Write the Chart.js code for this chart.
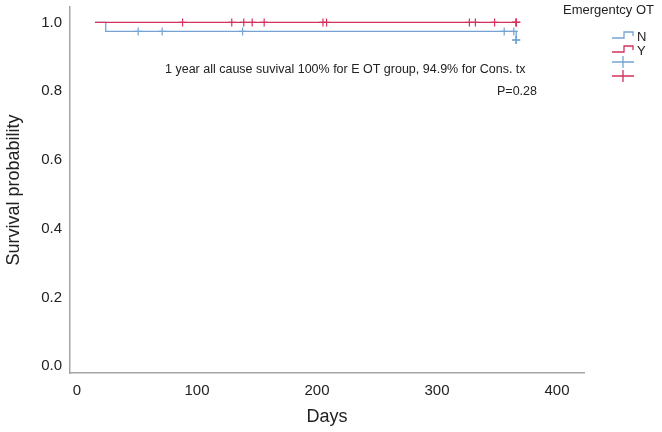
<!DOCTYPE html>
<html>
<head>
<meta charset="utf-8">
<script src="https://cdn.jsdelivr.net/npm/chart.js@4/dist/chart.umd.min.js"></script>
<style>
  body { margin: 0; background: #fff; }
  #wrap { width: 662px; height: 432px; }
</style>
</head>
<body>
<div id="wrap"><canvas id="km"></canvas></div>
<script>
//colors
const red   = '#d2325c';
const blue  = '#74a3d4';
const axisGrey = '#a6a6a6';
const textDark = '#222222';
const fontFam  = "'Liberation Sans', Arial, sans-serif";

// survival curves (days, survival)
const redTimes  = [15, 366];
const redSurv   = [1.0, 1.0];
const blueTimes = [15, 24, 366, 366];
const blueSurv  = [1.0, 0.974, 0.974, 0.949];

// censored cases
const redCensorDays   = [88, 129, 139, 146, 156, 205, 208, 327, 332, 348, 366, 366, 366];
const blueCensorDays  = [51, 71, 138, 356, 364];
const blueCensorEnd   = [366, 366, 366];

// ticks
const xTicks = [0, 100, 200, 300, 400];
const yTicks = [0, 0.2, 0.4, 0.6, 0.8, 1.0];

function pts(xs, ys) {
    return xs.map((x, i) => ({ x: x, y: ys[i] }));
}
function censor(xs, y) {
    return xs.map(x => ({ x: x, y: y }));
}

// legend + note
const extras = {
    id: 'extras',
    afterDraw(chart) {
        const c = chart.ctx;
        c.save();
        c.fillStyle = textDark;
        c.textBaseline = 'middle';
        c.textAlign = 'left';
        c.font = '12.5px ' + fontFam;
        c.fillText('1 year all cause suvival 100% for E OT group, 94.9% for Cons. tx', 165, 70);
        c.fillText('P=0.28', 497, 92);
        c.font = '13px ' + fontFam;
        c.fillText('Emergentcy OT', 563, 10);
        c.fillText('N', 637, 37);
        c.fillText('Y', 637, 51);

        // step icons
        c.lineWidth = 1.3;
        [[blue, 38], [red, 52]].forEach(([col, y]) => {
            c.strokeStyle = col;
            c.beginPath();
            c.moveTo(612, y);
            c.lineTo(624, y);
            c.lineTo(624, y - 6);
            c.lineTo(633, y - 6);
            c.lineTo(633, y - 2);
            c.stroke();
        });
        // cross icons
        [[blue, 62], [red, 76]].forEach(([col, y]) => {
            c.strokeStyle = col;
            c.beginPath();
            c.moveTo(612, y);
            c.lineTo(634, y);
            c.moveTo(623, y - 6);
            c.lineTo(623, y + 6);
            c.stroke();
        });
        c.restore();
    }
};

const ctx = document.getElementById('km').getContext('2d');
new Chart(ctx, {
    type: 'scatter',
    plugins: [extras],
    data: {
        datasets: [{
            label: 'Y censored',
            data: censor(redCensorDays, 1.0),
            pointStyle: 'cross',
            pointRadius: 4,
            pointBorderWidth: 1.2,
            borderColor: red,
            backgroundColor: red,
        }, {
            label: 'Y',
            data: pts(redTimes, redSurv),
            showLine: true,
            stepped: 'before',
            borderColor: red,
            borderWidth: 1.3,
            pointRadius: 0,
        }, {
            label: 'N censored',
            data: censor(blueCensorDays, 0.974).concat(censor(blueCensorEnd, 0.949)),
            pointStyle: 'cross',
            pointRadius: 4,
            pointBorderWidth: 1.2,
            borderColor: blue,
            backgroundColor: blue,
        }, {
            label: 'N',
            data: pts(blueTimes, blueSurv),
            showLine: true,
            stepped: 'before',
            borderColor: blue,
            borderWidth: 1.3,
            pointRadius: 0,
        }]
    },
    options: {
        responsive: true,
        maintainAspectRatio: false,
        animation: false,
        layout: {
            padding: { top: 7, right: 78, left: 0, bottom: 0 }
        },
        plugins: {
            legend: { display: false },
            tooltip: { enabled: false },
        },
        scales: {
            x: {
                type: 'linear',
                min: -5.8,
                max: 422.5,
                grid: { display: false, drawTicks: false },
                border: { display: true, color: axisGrey, width: 1.5 },
                afterBuildTicks: (scale) => { scale.ticks = xTicks.map(v => ({ value: v })); },
                afterFit: (scale) => {
                    scale.height = 59;
                    scale.paddingLeft = 0;
                    scale.paddingRight = 0;
                },
                ticks: {
                    padding: 9,
                    color: textDark,
                    font: { size: 15, family: fontFam },
                    maxRotation: 0,
                },
                title: {
                    display: true,
                    text: 'Days',
                    color: textDark,
                    font: { size: 18, family: fontFam },
                    padding: { top: 0, bottom: 4 },
                }
            },
            y: {
                min: -0.02,
                max: 1.045,
                grid: { display: false, drawTicks: false },
                border: { display: true, color: axisGrey, width: 1.5 },
                afterBuildTicks: (scale) => { scale.ticks = yTicks.map(v => ({ value: v })); },
                afterFit: (scale) => {
                    scale.width = 70;
                    scale.paddingTop = 0;
                    scale.paddingBottom = 0;
                },
                ticks: {
                    padding: 8,
                    color: textDark,
                    font: { size: 15, family: fontFam },
                    callback: (v) => v.toFixed(1),
                },
                title: {
                    display: true,
                    text: 'Survival probability',
                    color: textDark,
                    font: { size: 18, family: fontFam },
                    padding: { top: 3, bottom: 0 },
                }
            }
        }
    }
});
</script>
</body>
</html>
